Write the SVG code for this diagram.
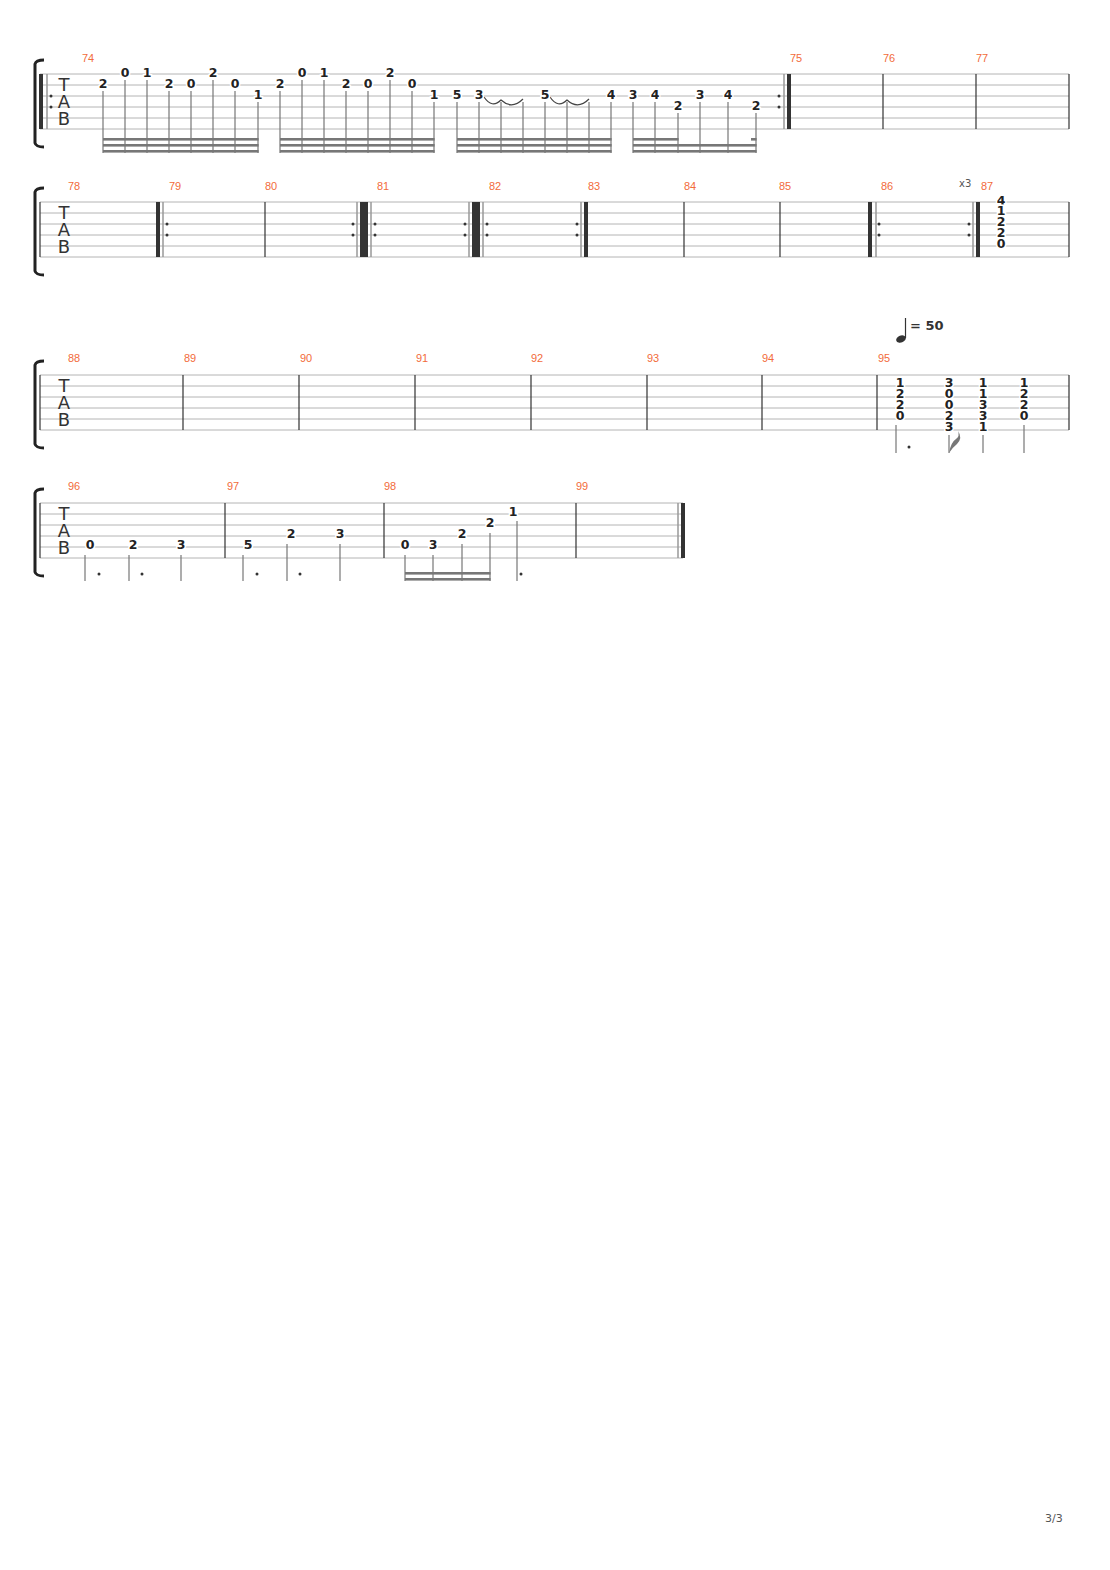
<svg xmlns="http://www.w3.org/2000/svg" width="1110" height="1570" viewBox="0 0 1110 1570">
<style>
.st{stroke:#b4b4b4;stroke-width:1}
.bl{stroke:#333;stroke-width:1.2}
.tk{stroke:#333;stroke-width:4}
.tn{stroke:#999;stroke-width:1.5}
.sm{stroke:#777;stroke-width:1.2;fill:none}
.bm{fill:#777}
.dot{fill:#333}
.n{font-family:"DejaVu Sans",sans-serif;font-weight:bold;font-size:12.5px;fill:#222;text-anchor:middle;stroke:#fff;stroke-width:3;paint-order:stroke}
.m{font-family:"Liberation Sans",sans-serif;font-size:11px;fill:#f26b3a}
.tab{font-family:"DejaVu Sans",sans-serif;font-size:18px;fill:#333;text-anchor:middle}
.br{stroke:#222;stroke-width:3;fill:none}
.tie{stroke:#444;stroke-width:1.2;fill:none}
</style>
<defs>
<g id="lines6"><line class="st" x1="40" y1="0" x2="1069" y2="0"/><line class="st" x1="40" y1="11" x2="1069" y2="11"/><line class="st" x1="40" y1="22" x2="1069" y2="22"/><line class="st" x1="40" y1="33" x2="1069" y2="33"/><line class="st" x1="40" y1="44" x2="1069" y2="44"/><line class="st" x1="40" y1="55" x2="1069" y2="55"/></g>
<g id="tabl"><text class="tab" x="64" y="17">T</text><text class="tab" x="64" y="34">A</text><text class="tab" x="64" y="51">B</text></g>
<path id="brk" class="br" d="M44,-14 Q36,-14 35,-10 L35,69 Q36,73 44,73"/>
</defs>

<g id="row1">
<use href="#lines6" y="74"/>
<use href="#brk" y="74"/>
<use href="#tabl" y="74"/>
<line class="tk" x1="41" y1="74" x2="41" y2="129"/><line class="tn" x1="47" y1="74" x2="47" y2="129"/>
<circle class="dot" cx="51" cy="96" r="1.5"/><circle class="dot" cx="51" cy="107" r="1.5"/>
<circle class="dot" cx="779" cy="96" r="1.5"/><circle class="dot" cx="779" cy="107" r="1.5"/>
<line class="tn" x1="784" y1="74" x2="784" y2="129"/><line class="tk" x1="789" y1="74" x2="789" y2="129"/>
<line class="bl" x1="883" y1="74" x2="883" y2="129"/><line class="bl" x1="976" y1="74" x2="976" y2="129"/><line class="bl" x1="1069" y1="74" x2="1069" y2="129"/>
<text class="m" x="82" y="62">74</text><text class="m" x="790" y="62">75</text><text class="m" x="883" y="62">76</text><text class="m" x="976" y="62">77</text>
<g id="stems1">
<path class="sm" d="M103,91V153M125,80V153M147,80V153M169,91V153M191,91V153M213,80V153M235,91V153M258,102V153M280,91V153M302,80V153M324,80V153M346,91V153M368,91V153M390,80V153M412,91V153M434,102V153M457,102V153M479,102V153M501,102V153M523,102V153M545,102V153M567,102V153M589,102V153M611,102V153M633,102V153M655,102V153M678,113V153M700,102V153M728,102V153M756,113V153"/>
<rect class="bm" x="103" y="138" width="155.6" height="2.6"/><rect class="bm" x="103" y="144" width="155.6" height="2.6"/><rect class="bm" x="103" y="150" width="155.6" height="2.6"/>
<rect class="bm" x="280" y="138" width="154.6" height="2.6"/><rect class="bm" x="280" y="144" width="154.6" height="2.6"/><rect class="bm" x="280" y="150" width="154.6" height="2.6"/>
<rect class="bm" x="457" y="138" width="154.6" height="2.6"/><rect class="bm" x="457" y="144" width="154.6" height="2.6"/><rect class="bm" x="457" y="150" width="154.6" height="2.6"/>
<rect class="bm" x="633" y="138" width="45.6" height="2.6"/><rect class="bm" x="751" y="138" width="5.6" height="2.6"/><rect class="bm" x="633" y="144" width="123.6" height="2.6"/><rect class="bm" x="633" y="150" width="123.6" height="2.6"/>
</g>
<path class="tie" d="M484,97 Q492,109 501,100 Q512,110 523,99"/>
<path class="tie" d="M550,97 Q558,109 567,100 Q578,110 589,99"/>
<text class="n" x="103" y="88">2</text><text class="n" x="125" y="77">0</text><text class="n" x="147" y="77">1</text><text class="n" x="169" y="88">2</text><text class="n" x="191" y="88">0</text><text class="n" x="213" y="77">2</text><text class="n" x="235" y="88">0</text><text class="n" x="258" y="99">1</text>
<text class="n" x="280" y="88">2</text><text class="n" x="302" y="77">0</text><text class="n" x="324" y="77">1</text><text class="n" x="346" y="88">2</text><text class="n" x="368" y="88">0</text><text class="n" x="390" y="77">2</text><text class="n" x="412" y="88">0</text><text class="n" x="434" y="99">1</text>
<text class="n" x="457" y="99">5</text><text class="n" x="479" y="99">3</text><text class="n" x="545" y="99">5</text><text class="n" x="611" y="99">4</text>
<text class="n" x="633" y="99">3</text><text class="n" x="655" y="99">4</text><text class="n" x="678" y="110">2</text><text class="n" x="700" y="99">3</text><text class="n" x="728" y="99">4</text><text class="n" x="756" y="110">2</text>
</g>

<g id="row2">
<use href="#lines6" y="202"/>
<use href="#brk" y="202"/>
<use href="#tabl" y="202"/>
<line class="bl" x1="40" y1="202" x2="40" y2="257"/>
<line class="tk" x1="158" y1="202" x2="158" y2="257"/><line class="tn" x1="163" y1="202" x2="163" y2="257"/>
<circle class="dot" cx="167" cy="224" r="1.5"/><circle class="dot" cx="167" cy="235" r="1.5"/>
<line class="bl" x1="265" y1="202" x2="265" y2="257"/>
<circle class="dot" cx="353" cy="224" r="1.5"/><circle class="dot" cx="353" cy="235" r="1.5"/>
<line class="tn" x1="357" y1="202" x2="357" y2="257"/><line class="tk" x1="362" y1="202" x2="362" y2="257"/><line class="tk" x1="366" y1="202" x2="366" y2="257"/><line class="tn" x1="371" y1="202" x2="371" y2="257"/>
<circle class="dot" cx="375" cy="224" r="1.5"/><circle class="dot" cx="375" cy="235" r="1.5"/>
<circle class="dot" cx="465" cy="224" r="1.5"/><circle class="dot" cx="465" cy="235" r="1.5"/>
<line class="tn" x1="469" y1="202" x2="469" y2="257"/><line class="tk" x1="474" y1="202" x2="474" y2="257"/><line class="tk" x1="478" y1="202" x2="478" y2="257"/><line class="tn" x1="483" y1="202" x2="483" y2="257"/>
<circle class="dot" cx="487" cy="224" r="1.5"/><circle class="dot" cx="487" cy="235" r="1.5"/>
<circle class="dot" cx="577" cy="224" r="1.5"/><circle class="dot" cx="577" cy="235" r="1.5"/>
<line class="tn" x1="581" y1="202" x2="581" y2="257"/><line class="tk" x1="586" y1="202" x2="586" y2="257"/>
<line class="bl" x1="684" y1="202" x2="684" y2="257"/><line class="bl" x1="780" y1="202" x2="780" y2="257"/>
<line class="tk" x1="870" y1="202" x2="870" y2="257"/><line class="tn" x1="876" y1="202" x2="876" y2="257"/>
<circle class="dot" cx="879" cy="224" r="1.5"/><circle class="dot" cx="879" cy="235" r="1.5"/>
<circle class="dot" cx="969" cy="224" r="1.5"/><circle class="dot" cx="969" cy="235" r="1.5"/>
<line class="tn" x1="973" y1="202" x2="973" y2="257"/><line class="tk" x1="978" y1="202" x2="978" y2="257"/>
<line class="bl" x1="1069" y1="202" x2="1069" y2="257"/>
<text class="m" x="68" y="190">78</text><text class="m" x="169" y="190">79</text><text class="m" x="265" y="190">80</text><text class="m" x="377" y="190">81</text><text class="m" x="489" y="190">82</text><text class="m" x="588" y="190">83</text><text class="m" x="684" y="190">84</text><text class="m" x="779" y="190">85</text><text class="m" x="881" y="190">86</text><text class="m" x="981" y="190">87</text>
<text x="959" y="187" style="font-family:'DejaVu Sans',sans-serif;font-size:10px;fill:#555">x3</text>
<text class="n" x="1001" y="205">4</text><text class="n" x="1001" y="215">1</text><text class="n" x="1001" y="226">2</text><text class="n" x="1001" y="237">2</text><text class="n" x="1001" y="248">0</text>
</g>

<g id="row3">
<use href="#lines6" y="375"/>
<use href="#brk" y="375"/>
<use href="#tabl" y="375"/>
<line class="bl" x1="40" y1="375" x2="40" y2="430"/>
<path class="bl" d="M183,375V430M299,375V430M415,375V430M531,375V430M647,375V430M762,375V430M877,375V430M1069,375V430"/>
<text class="m" x="68" y="362">88</text><text class="m" x="184" y="362">89</text><text class="m" x="300" y="362">90</text><text class="m" x="416" y="362">91</text><text class="m" x="531" y="362">92</text><text class="m" x="647" y="362">93</text><text class="m" x="762" y="362">94</text><text class="m" x="878" y="362">95</text>
<g id="tempo"><ellipse cx="901" cy="339" rx="5" ry="3.5" transform="rotate(-20 901 339)" fill="#333"/><line x1="905.5" y1="338" x2="905.5" y2="318" stroke="#333" stroke-width="1.2"/>
<text x="910" y="330" style="font-family:'DejaVu Sans',sans-serif;font-weight:bold;font-size:13px;fill:#333">= 50</text></g>
<text class="n" x="900" y="387">1</text><text class="n" x="900" y="398">2</text><text class="n" x="900" y="409">2</text><text class="n" x="900" y="420">0</text>
<text class="n" x="949" y="387">3</text><text class="n" x="949" y="398">0</text><text class="n" x="949" y="409">0</text><text class="n" x="949" y="420">2</text><text class="n" x="949" y="431">3</text>
<text class="n" x="983" y="387">1</text><text class="n" x="983" y="398">1</text><text class="n" x="983" y="409">3</text><text class="n" x="983" y="420">3</text><text class="n" x="983" y="431">1</text>
<text class="n" x="1024" y="387">1</text><text class="n" x="1024" y="398">2</text><text class="n" x="1024" y="409">2</text><text class="n" x="1024" y="420">0</text>
<path class="sm" d="M896,425V453M983,435V453M1024,425V453M949,435V453"/>
<path d="M949,453 Q951,442 956,439 Q960,436 958,431 Q963,438 957,444 Q952,448 949,453Z" fill="#777"/>
<circle class="dot" cx="909" cy="447" r="1.5"/>
</g>

<g id="row4">
<line class="st" x1="40" y1="503" x2="683" y2="503"/><line class="st" x1="40" y1="514" x2="683" y2="514"/><line class="st" x1="40" y1="525" x2="683" y2="525"/><line class="st" x1="40" y1="536" x2="683" y2="536"/><line class="st" x1="40" y1="547" x2="683" y2="547"/><line class="st" x1="40" y1="558" x2="683" y2="558"/>
<use href="#brk" y="503"/>
<use href="#tabl" y="503"/>
<line class="bl" x1="40" y1="503" x2="40" y2="558"/>
<path class="bl" d="M225,503V558M384,503V558M576,503V558"/>
<line class="tn" x1="678" y1="503" x2="678" y2="558"/><line class="tk" x1="683" y1="503" x2="683" y2="558"/>
<text class="m" x="68" y="490">96</text><text class="m" x="227" y="490">97</text><text class="m" x="384" y="490">98</text><text class="m" x="576" y="490">99</text>
<path class="sm" d="M85,555V581M129,555V581M181,555V581M243,555V581M287,544V581M340,544V581M405,555V581M433,555V581M462,544V581M490,533V581M517,521V581"/>
<rect class="bm" x="405" y="572" width="85.6" height="2.6"/><rect class="bm" x="405" y="578" width="85.6" height="2.6"/>
<circle class="dot" cx="99" cy="574" r="1.5"/><circle class="dot" cx="142" cy="574" r="1.5"/><circle class="dot" cx="257" cy="574" r="1.5"/><circle class="dot" cx="300" cy="574" r="1.5"/><circle class="dot" cx="521" cy="574" r="1.5"/>
<text class="n" x="90" y="549">0</text><text class="n" x="133" y="549">2</text><text class="n" x="181" y="549">3</text>
<text class="n" x="248" y="549">5</text><text class="n" x="291" y="538">2</text><text class="n" x="340" y="538">3</text>
<text class="n" x="405" y="549">0</text><text class="n" x="433" y="549">3</text><text class="n" x="462" y="538">2</text><text class="n" x="490" y="527">2</text><text class="n" x="513" y="516">1</text>
</g>

<text x="1045" y="1522" style="font-family:'DejaVu Sans',sans-serif;font-size:11px;fill:#555">3/3</text>
</svg>
